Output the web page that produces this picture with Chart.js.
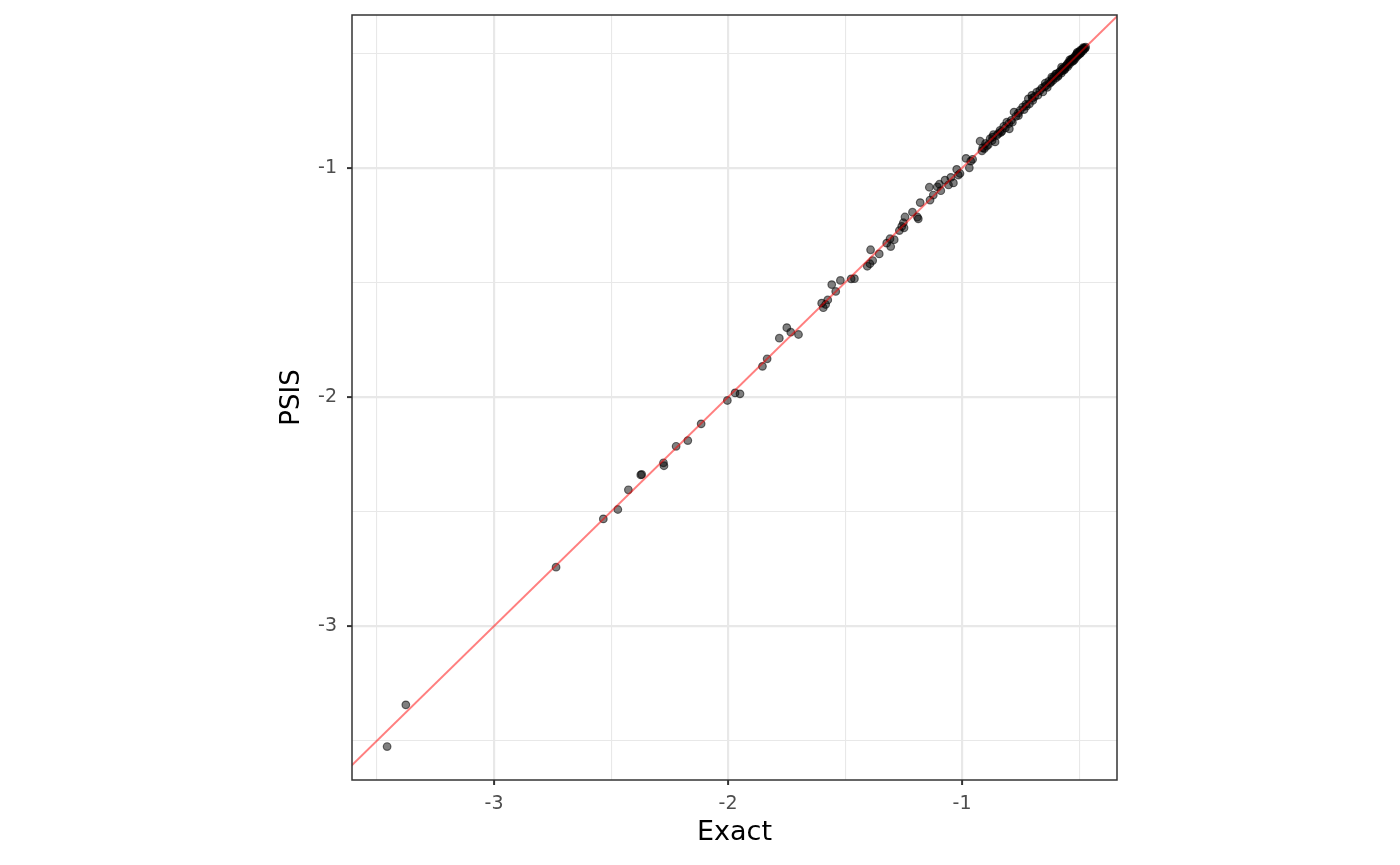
<!DOCTYPE html>
<html>
<head>
<meta charset="utf-8">
<title>PSIS vs Exact</title>
<script src="https://cdn.jsdelivr.net/npm/chart.js@4.4.1/dist/chart.umd.min.js"></script>
<style>
  body { margin: 0; background: #fff; }
  #wrap { width: 1400px; height: 865px; }
</style>
</head>
<body>
<div id="wrap"><canvas id="chart" width="1400" height="865"></canvas></div>
<script>
// values
const exact = [
  -3.457, -3.377, -2.735, -2.533, -2.471, -2.426, -2.373, -2.369, -2.276, -2.274,
  -2.222, -2.172, -2.115, -2.003, -1.970, -1.949, -1.853, -1.833, -1.781, -1.749,
  -1.732, -1.699, -1.600, -1.593, -1.583, -1.574, -1.557, -1.540, -1.520, -1.474,
  -1.460, -1.405, -1.394, -1.382, -1.391, -1.354, -1.322, -1.308, -1.305, -1.290,
  -1.268, -1.258, -1.251, -1.244, -1.248, -1.212, -1.191, -1.187, -1.179, -1.140,
  -1.137, -1.123, -1.106, -1.097, -1.091, -1.073, -1.058, -1.048, -1.037, -1.023,
  -1.016, -1.009, -0.983, -0.969, -0.963, -0.955,
  -0.923, -0.912, -0.905, -0.900, -0.888, -0.880, -0.872, -0.866, -0.859, -0.852,
  -0.845, -0.838, -0.830, -0.822, -0.815, -0.809, -0.798, -0.790, -0.785, -0.778,
  -0.770, -0.759, -0.752, -0.741, -0.735, -0.728, -0.717, -0.712, -0.702, -0.698,
  -0.690, -0.681, -0.676, -0.668, -0.659, -0.655, -0.648, -0.641, -0.636, -0.630,
  -0.625, -0.617, -0.612, -0.606, -0.600, -0.596, -0.590, -0.585, -0.581, -0.576,
  -0.572, -0.567, -0.563, -0.558, -0.553, -0.549, -0.545, -0.541, -0.538, -0.534,
  -0.530, -0.527, -0.524, -0.520, -0.517, -0.514, -0.510, -0.507, -0.504, -0.501,
  -0.498, -0.496, -0.493, -0.490, -0.487, -0.484, -0.481, -0.478, -0.475, -0.472,
  -0.645, -0.620, -0.600, -0.575, -0.560, -0.540, -0.525, -0.508, -0.495, -0.483,
  -0.615, -0.590, -0.570, -0.550, -0.532, -0.512, -0.700, -0.725, -0.760, -0.800,
  -0.835, -0.870, -0.895, -0.915
];
const psis = [
  -3.526, -3.344, -2.743, -2.532, -2.491, -2.405, -2.340, -2.338, -2.287, -2.300,
  -2.215, -2.190, -2.117, -2.015, -1.982, -1.986, -1.866, -1.833, -1.743, -1.697,
  -1.717, -1.727, -1.590, -1.610, -1.596, -1.576, -1.509, -1.539, -1.491, -1.484,
  -1.483, -1.429, -1.418, -1.404, -1.357, -1.375, -1.328, -1.309, -1.343, -1.313,
  -1.273, -1.255, -1.239, -1.214, -1.261, -1.193, -1.214, -1.222, -1.151, -1.084,
  -1.140, -1.118, -1.082, -1.071, -1.099, -1.053, -1.074, -1.041, -1.065, -1.006,
  -1.031, -1.024, -0.958, -0.999, -0.970, -0.962,
  -0.883, -0.912, -0.915, -0.893, -0.898, -0.872, -0.880, -0.854, -0.886, -0.858,
  -0.850, -0.836, -0.840, -0.818, -0.825, -0.800, -0.829, -0.792, -0.800, -0.756,
  -0.775, -0.771, -0.748, -0.734, -0.745, -0.722, -0.698, -0.720, -0.683, -0.705,
  -0.688, -0.669, -0.682, -0.662, -0.651, -0.668, -0.645, -0.640, -0.648, -0.622,
  -0.630, -0.603, -0.618, -0.600, -0.608, -0.589, -0.596, -0.582, -0.579, -0.586,
  -0.568, -0.564, -0.572, -0.556, -0.552, -0.558, -0.540, -0.546, -0.535, -0.530,
  -0.536, -0.523, -0.521, -0.527, -0.512, -0.518, -0.502, -0.510, -0.498, -0.505,
  -0.493, -0.487, -0.497, -0.488, -0.483, -0.489, -0.480, -0.476, -0.479, -0.472,
  -0.630, -0.625, -0.590, -0.560, -0.566, -0.528, -0.532, -0.495, -0.500, -0.475,
  -0.610, -0.600, -0.575, -0.545, -0.524, -0.506, -0.695, -0.730, -0.760, -0.806,
  -0.845, -0.865, -0.905, -0.925
];
const xLimits = [-3.607, -0.338];
const yLimits = [-3.672, -0.332];
const refLine = [-3.8, -0.2]; // y = x

const FONT = "'DejaVu Sans', sans-serif";
const isMajor = v => Math.abs(v - Math.round(v)) < 1e-6;

// panel border, like ggplot theme_bw
const panelBorder = {
  id: 'panelBorder',
  afterDatasetsDraw(chart) {
    const a = chart.chartArea, c = chart.ctx;
    c.save();
    c.strokeStyle = '#333333';
    c.lineWidth = 1.5;
    c.strokeRect(a.left, a.top, a.right - a.left, a.bottom - a.top);
    c.restore();
  }
};

const gridOpts = {
  color: '#E8E8E8',
  lineWidth: ctx => isMajor(ctx.tick.value) ? 2.2 : 1.1,
  drawTicks: true,
  tickLength: 5,
  tickWidth: 2,
  tickColor: ctx => isMajor(ctx.tick.value) ? '#333333' : 'rgba(0,0,0,0)'
};

new Chart(document.getElementById('chart'), {
  data: {
    datasets: [
      {
        type: 'line',
        data: refLine.map(v => ({ x: v, y: v })),
        borderColor: 'rgba(255,0,0,0.5)',
        borderWidth: 2,
        pointRadius: 0,
        order: 0
      },
      {
        type: 'scatter',
        data: exact.map((v, i) => ({ x: v, y: psis[i] })),
        backgroundColor: 'rgba(0,0,0,0.5)',
        borderColor: 'rgba(0,0,0,0.55)',
        borderWidth: 1.2,
        pointRadius: 3.8,
        order: 1
      }
    ]
  },
  options: {
    responsive: false,
    devicePixelRatio: 1,
    animation: false,
    layout: { padding: { left: 277, right: 283, top: 15, bottom: 16 } },
    plugins: { legend: { display: false }, tooltip: { enabled: false } },
    scales: {
      x: {
        type: 'linear',
        min: xLimits[0], max: xLimits[1],
        afterFit(s) { s.height = 69; s.paddingLeft = 0; s.paddingRight = 0; },
        border: { display: false },
        grid: gridOpts,
        ticks: {
          stepSize: 0.5,
          includeBounds: false,
          padding: 8,
          color: '#4D4D4D',
          font: { family: FONT, size: 19 },
          callback: v => isMajor(v) ? String(Math.round(v)) : ''
        },
        title: {
          display: true, text: 'Exact', color: '#000',
          font: { family: FONT, size: 27 }, padding: 0
        }
      },
      y: {
        type: 'linear',
        min: yLimits[0], max: yLimits[1],
        afterFit(s) { s.width = 75; s.paddingTop = 0; s.paddingBottom = 0; },
        border: { display: false },
        grid: gridOpts,
        ticks: {
          stepSize: 0.5,
          includeBounds: false,
          padding: 10,
          color: '#4D4D4D',
          font: { family: FONT, size: 19 },
          callback: v => isMajor(v) ? String(Math.round(v)) : ''
        },
        title: {
          display: true, text: 'PSIS', color: '#000',
          font: { family: FONT, size: 26 }, padding: 0
        }
      }
    }
  },
  plugins: [panelBorder]
});
</script>
</body>
</html>
